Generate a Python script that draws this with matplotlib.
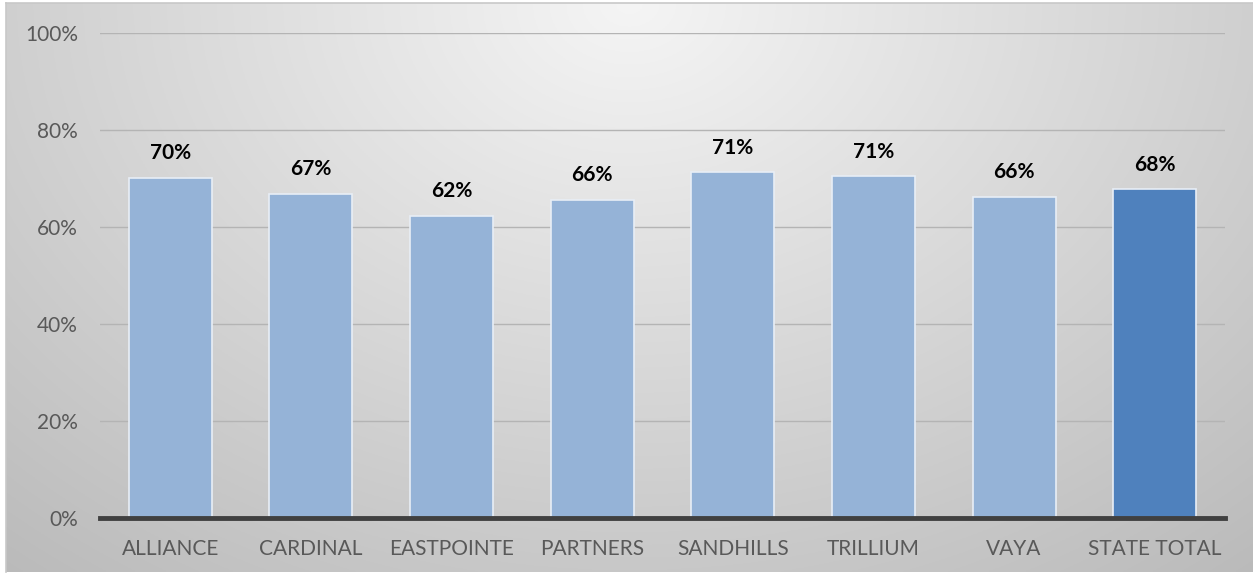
import numpy as np
import matplotlib.pyplot as plt
from matplotlib.ticker import FuncFormatter

categories = ["ALLIANCE", "CARDINAL", "EASTPOINTE", "PARTNERS", "SANDHILLS", "TRILLIUM", "VAYA", "STATE TOTAL"]
values = [70.1, 66.8, 62.3, 65.6, 71.3, 70.5, 66.2, 67.8]
labels = ["70%", "67%", "62%", "66%", "71%", "71%", "66%", "68%"]
y_ticks = [0, 20, 40, 60, 80, 100]

plt.rcParams['font.family'] = ['Lato', 'DejaVu Sans']

fig = plt.figure(figsize=(12.53, 5.75), dpi=100)

# radial gradient background
bg = fig.add_axes([6/1253, 3/575, 1247/1253, 569/575])
bg.set_zorder(0)
yy, xx = np.mgrid[0:1:300j, 0:1:600j]
d = np.sqrt(((xx - 0.5) / 0.75) ** 2 + ((yy - 0.0) / 1.25) ** 2)
shade = 0.96 - 0.22 * np.clip(d, 0, 1.2)
bg.imshow(np.dstack([shade] * 3), aspect='auto', extent=[0, 1, 1, 0])
bg.set_xlim(0, 1)
bg.set_ylim(1, 0)
for s in ["left", "top"]:
    bg.spines[s].set_color("#c8c8c8")
    bg.spines[s].set_linewidth(1.2)
for s in ["right", "bottom"]:
    bg.spines[s].set_visible(False)
bg.set_xticks([])
bg.set_yticks([])

ax = fig.add_axes([100/1253, (575-518)/575, 1125/1253, 485/575])
ax.set_zorder(1)
ax.patch.set_visible(False)

x = np.arange(len(categories))
colors = ["#95b3d7"] * (len(categories) - 1) + ["#4f81bd"]
ax.bar(x, values, width=0.59, color=colors, edgecolor="#e8eef6", linewidth=1.2, zorder=3)

for xi, v, lab in zip(x, values, labels):
    ax.text(xi, v + 3.0, lab, ha="center", va="bottom", fontsize=15, fontweight="bold", color="black", zorder=4)

ax.set_xlim(-0.5, len(categories) - 0.5)
ax.set_ylim(0, 100)
ax.set_yticks(y_ticks)
ax.yaxis.set_major_formatter(FuncFormatter(lambda v, p: f"{v:.0f}%"))
ax.set_xticks(x)
ax.set_xticklabels(categories)
ax.tick_params(axis="both", length=0, labelsize=15, labelcolor="#595959")
ax.tick_params(axis="x", pad=15)
ax.tick_params(axis="y", pad=16)
ax.grid(axis="y", color="#b4b4b4", linewidth=1.0, zorder=0)
for s in ["left", "right", "top"]:
    ax.spines[s].set_visible(False)
ax.spines["bottom"].set_color("#404040")
ax.spines["bottom"].set_linewidth(3.5)
ax.spines["bottom"].set_zorder(5)

fig.savefig("out.png", dpi=100)
